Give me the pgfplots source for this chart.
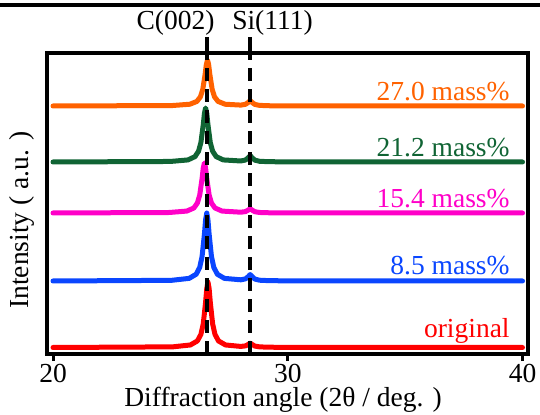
\documentclass[border=0pt]{standalone}
\usepackage{pgfplots}
\pgfplotsset{compat=1.18}
\usepackage{fontspec}
\setmainfont{Liberation Serif}
\newfontfamily\tnr{Liberation Serif}
\definecolor{cOrange}{RGB}{255,98,0}
\definecolor{cGreen}{RGB}{16,100,52}
\definecolor{cMagenta}{RGB}{255,0,200}
\definecolor{cBlue}{RGB}{10,70,255}
\definecolor{cRed}{RGB}{255,0,0}
\begin{document}
\begin{tikzpicture}[font=\tnr]
\path[use as bounding box] (0,0) rectangle (540bp,415bp);
\draw[line width=4.5bp] (-5bp,410bp) -- (545bp,410bp);
\begin{axis}[
  at={(47bp,61bp)}, anchor=south west,
  scale only axis, width=481bp, height=301bp,
  xmin=19.744, xmax=40.234, ymin=-2, ymax=299,
  axis line style={line width=3.5bp},
  xtick={20,30,40}, ytick=\empty,
  xtick pos=bottom, tick align=outside,
  major tick length=7bp,
  tick style={line width=3bp, black},
  font=\tnr\fontsize{27.5bp}{33bp}\selectfont,
  /pgf/number format/assume math mode=true,
  clip=false,
  every axis plot/.append style={line width=5bp, line join=round, line cap=round},
]
\addplot[cRed] coordinates {(20,4.5)(25.1,5.15)(25.85,7.02)(26.15,11.05)(26.3,17.6)(26.4,28.1)(26.5,49.7)(26.55,63.5)(26.6,70)(26.65,63.5)(26.7,49.7)(26.8,28.1)(26.9,17.6)(27.05,11.05)(27.35,7.02)(28.0,5.57)(28.2,6.12)(28.3,7.38)(28.4,8.96)(28.5,7.27)(28.6,5.91)(28.8,5.12)(29.2,4.8)(30,4.6)(40,4.5)};
\addplot[cBlue] coordinates {(20,71)(25.05,71.67)(25.8,73.62)(26.1,77.8)(26.25,84.6)(26.35,95.5)(26.45,117.9)(26.5,132.2)(26.55,139)(26.6,132.2)(26.65,117.9)(26.75,95.5)(26.85,84.6)(27.0,77.8)(27.3,73.62)(28.0,72.2)(28.2,73.12)(28.3,75.04)(28.4,77.44)(28.5,74.94)(28.6,72.92)(28.8,71.78)(29.2,71.34)(30,71.15)(40,71)};
\addplot[cMagenta] coordinates {(20,139)(24.95,139.5)(25.7,140.93)(26.0,144)(26.15,149)(26.25,157)(26.35,173.5)(26.4,184)(26.45,189)(26.5,184)(26.55,173.5)(26.65,157)(26.75,149)(26.9,144)(27.2,140.93)(28.0,139.79)(28.2,140.41)(28.3,141.69)(28.4,143.3)(28.5,141.63)(28.6,140.28)(28.8,139.52)(29.2,139.23)(30,139.1)(40,139)};
\addplot[cGreen] coordinates {(20,190)(25.0,190.53)(25.75,192.08)(26.05,195.4)(26.2,200.8)(26.3,209.4)(26.4,227.3)(26.45,238.6)(26.5,244)(26.55,238.6)(26.6,227.3)(26.7,209.4)(26.8,200.8)(26.95,195.4)(27.25,192.08)(28.0,191.01)(28.2,191.98)(28.3,193.91)(28.4,196.34)(28.5,193.84)(28.6,191.84)(28.8,190.71)(29.2,190.29)(30,190.15)(40,190)};
\addplot[cOrange] coordinates {(20,246)(25.08,246.46)(25.83,247.77)(26.13,250.6)(26.28,255.2)(26.38,262.6)(26.48,277.7)(26.53,287.4)(26.58,292)(26.63,287.4)(26.68,277.7)(26.78,262.6)(26.88,255.2)(27.03,250.6)(27.33,247.77)(28.0,246.91)(28.2,247.69)(28.3,249.3)(28.4,251.31)(28.5,249.23)(28.6,247.55)(28.8,246.61)(29.2,246.25)(30,246.1)(40,246)};
% reference lines
\addplot[black, line width=4.5bp, line cap=butt, dash pattern=on 13bp off 8bp] coordinates {(26.55,-2)(26.55,299)};
\addplot[black, line width=4.5bp, line cap=butt, dash pattern=on 13bp off 8bp] coordinates {(28.4,-2)(28.4,299)};
\addplot[black, line width=4.5bp, line cap=butt] coordinates {(26.55,299)(26.55,315)};
\addplot[black, line width=4.5bp, line cap=butt] coordinates {(28.4,299)(28.4,315)};
% labels
\node[anchor=base] at (axis cs:25.22,322) {C(002)};
\node[anchor=base] at (axis cs:29.35,322) {Si(111)};
\node[anchor=base east, text=cOrange] at (axis cs:39.6,251) {27.0 mass\%};
\node[anchor=base east, text=cGreen] at (axis cs:39.6,195) {21.2 mass\%};
\node[anchor=base east, text=cMagenta] at (axis cs:39.6,144) {15.4 mass\%};
\node[anchor=base east, text=cBlue] at (axis cs:39.6,77) {8.5 mass\%};
\node[anchor=base east, text=cRed] at (axis cs:39.6,15) {original};
\node[anchor=base] at (axis cs:29.8,-54) {Diffraction angle (2θ / deg. )};
\node[rotate=90, anchor=center] at (axis cs:18.68,132) {Intensity ( a.u. )};
\end{axis}
\end{tikzpicture}
\end{document}
